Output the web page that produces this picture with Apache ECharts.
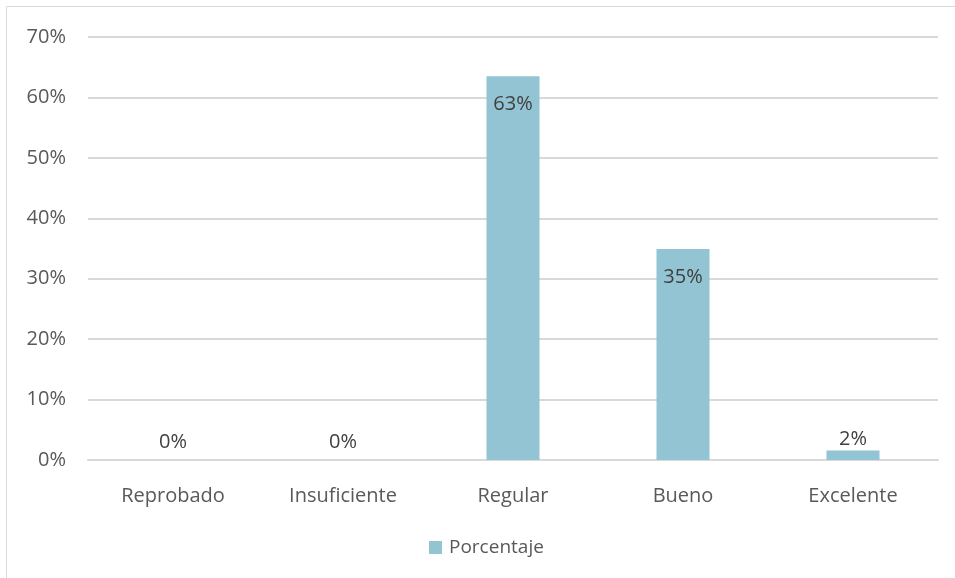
<!DOCTYPE html>
<html>
<head>
<meta charset="utf-8">
<script src="https://cdn.jsdelivr.net/npm/echarts@6/dist/echarts.min.js"></script>
<style>
  html, body { margin: 0; padding: 0; background: #ffffff; }
  #chart { width: 955px; height: 578px; }
</style>
</head>
<body>
<div id="chart"></div>
<script>
// Categories and share of students in each grade band
const categories = ['Reprobado', 'Insuficiente', 'Regular', 'Bueno', 'Excelente'];
const porcentaje = [0, 0, 0.6349, 0.3492, 0.0159];
const seriesName = 'Porcentaje';
const yTicks = [0, 0.1, 0.2, 0.3, 0.4, 0.5, 0.6, 0.7];

const FONT = '"Open Sans", "Noto Sans", sans-serif';
const BAR = '#92c4d3';

const chart = echarts.init(document.getElementById('chart'), null, { renderer: 'canvas' });

const pct = v => Math.round(v * 100) + '%';

chart.setOption({
  animation: false,
  backgroundColor: '#ffffff',
  graphic: [{
    type: 'rect',
    shape: { x: 6.5, y: 6.5, width: 1000, height: 1000 },
    style: { fill: 'none', stroke: '#d9d9d9', lineWidth: 1 },
    silent: true,
    z: -1
  }],
  grid: { left: 88, right: 17, top: 37, bottom: 118, containLabel: false },
  legend: {
    data: [seriesName],
    bottom: 16,
    left: 424,
    itemWidth: 13,
    itemHeight: 13,
    itemGap: 6,
    icon: 'rect',
    textStyle: { color: '#595959', fontSize: 19, fontFamily: FONT, padding: [0, 0, 0, 2] }
  },
  xAxis: {
    type: 'category',
    data: categories,
    axisLine: { show: true, lineStyle: { color: '#d9d9d9', width: 2 } },
    axisTick: { show: false },
    axisLabel: { color: '#595959', fontSize: 20, fontFamily: FONT, margin: 26 }
  },
  yAxis: {
    type: 'value',
    min: 0,
    max: yTicks[yTicks.length - 1],
    interval: 0.1,
    axisLine: { show: false },
    axisTick: { show: false },
    splitLine: { lineStyle: { color: '#d9d9d9', width: 2 } },
    axisLabel: {
      color: '#595959', fontSize: 20, fontFamily: FONT, margin: 22,
      formatter: v => Math.round(v * 100) + '%'
    }
  },
  series: [{
    name: seriesName,
    type: 'bar',
    barWidth: 53,
    itemStyle: { color: BAR },
    data: porcentaje.map(v => ({
      value: v,
      label: v > 0.1
        ? { position: 'insideTop', distance: 18 }
        : { position: 'top', distance: v > 0 ? 1 : 8 }
    })),
    label: {
      show: true,
      color: '#404040',
      fontSize: 20,
      fontFamily: FONT,
      formatter: p => pct(p.value)
    }
  }]
});
</script>
</body>
</html>
